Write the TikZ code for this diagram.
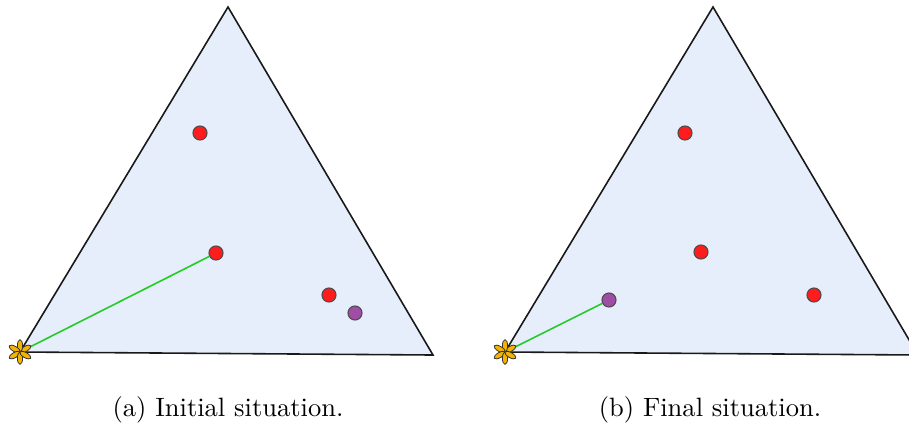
\documentclass[tikz,border=0pt]{standalone}
\usepackage{amsmath,amssymb}
\usetikzlibrary{positioning}

\definecolor{regionblue}{HTML}{E6EEFC}
\definecolor{dotred}{HTML}{FF1C1C}
\definecolor{dotpurple}{HTML}{A04DA6}
\definecolor{pathgreen}{HTML}{22CC22}
\definecolor{staryellow}{HTML}{F2B400}

\begin{document}
\begin{tikzpicture}[x=0.377pt, y=-0.377pt,
  region/.style={fill=regionblue, draw=black!90, line width=0.6pt, line join=miter},
  dot/.style={circle, inner sep=0pt, minimum size=5.3pt, draw=black!70, line width=0.4pt},
  reddot/.style={dot, fill=dotred},
  purpledot/.style={dot, fill=dotpurple},
  link/.style={draw=pathgreen, line width=0.6pt},
  petal/.style={fill=staryellow, draw=black!80, line width=0.3pt},
  caption/.style={anchor=base, font=\normalsize}]

\useasboundingbox (0,0) rectangle (909,427);
\clip (0,0) rectangle (909,427);

% (a) initial situation
\coordinate (a-l) at (20,352);
\coordinate (a-t) at (228,7);
\coordinate (a-r) at (433,355);
\draw[region] (a-l) -- (a-t) -- (a-r) -- cycle;

\node[reddot] (a1) at (200,133) {};
\node[reddot] (a2) at (216,253) {};
\node[reddot] (a3) at (329,295) {};
\node[purpledot] (a4) at (355,313) {};

\draw[link] (a-l) -- (a2);
\begin{scope}[shift={(a-l)}]
  \foreach \ang in {30,90,150,210,270,330}
    \draw[petal, rotate=\ang] (6.2,0) ellipse (6.2 and 2.6);
\end{scope}

\node[caption] (capa) at (228,416) {(a) Initial situation.};

% (b) final situation, same region shifted right
\coordinate (b-l) at (505,352);
\coordinate (b-t) at (713,7);
\coordinate (b-r) at (918,355);
\draw[region] (b-l) -- (b-t) -- (b-r) -- cycle;

\node[reddot] (b1) at (685,133) {};
\node[reddot] (b2) at (701,252) {};
\node[reddot] (b3) at (814,295) {};
\node[purpledot] (b4) at (609,300) {};

\draw[link] (b-l) -- (b4);
\begin{scope}[shift={(b-l)}]
  \foreach \ang in {30,90,150,210,270,330}
    \draw[petal, rotate=\ang] (6.2,0) ellipse (6.2 and 2.6);
\end{scope}

\node[caption] (capb) at (710,416) {(b) Final situation.};
\end{tikzpicture}
\end{document}
